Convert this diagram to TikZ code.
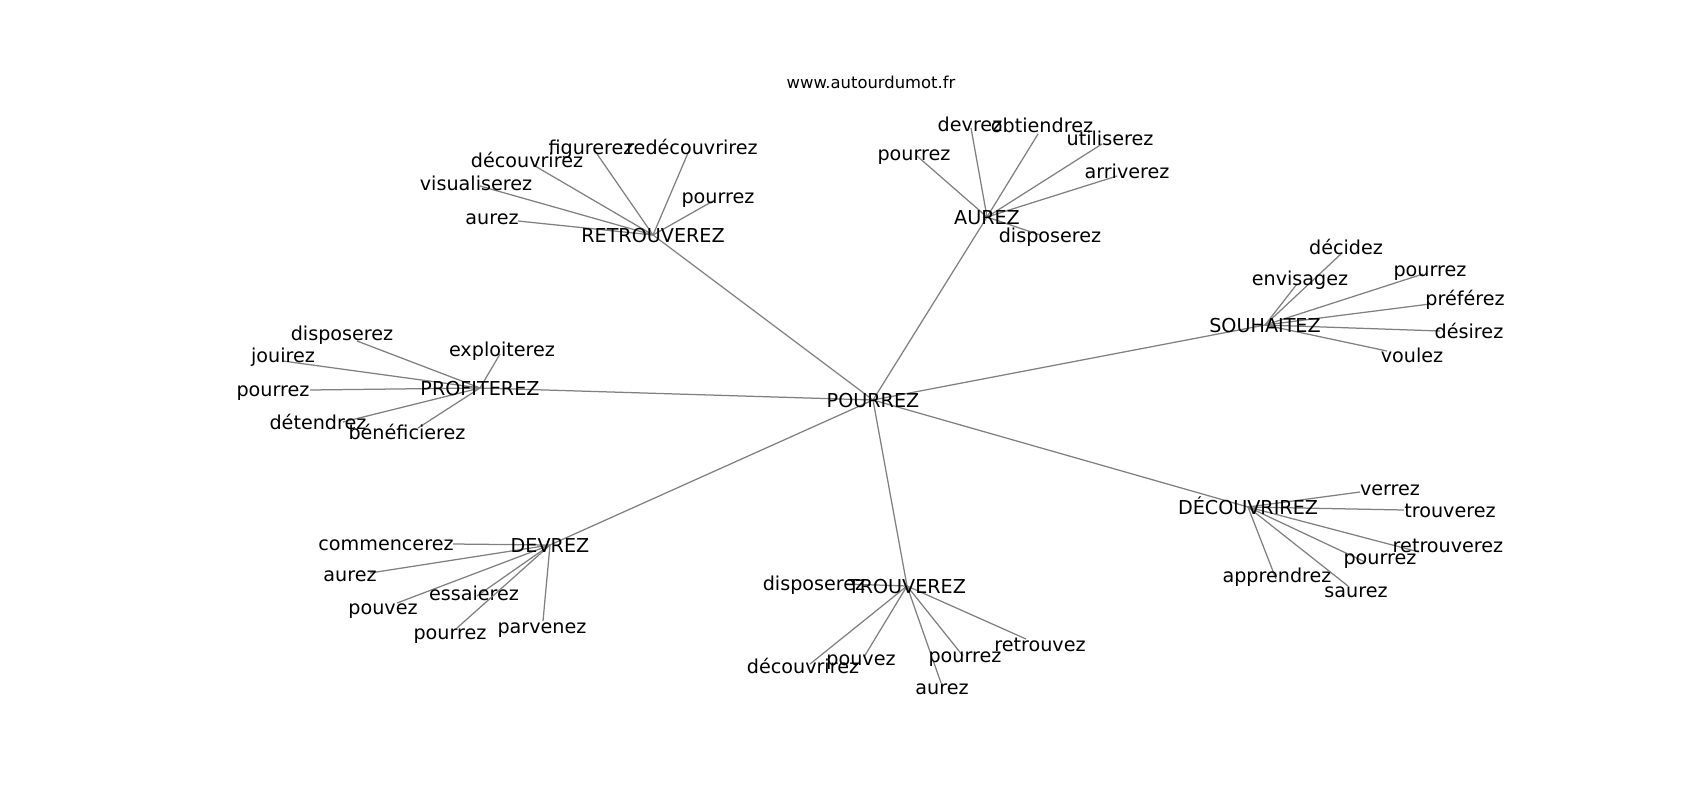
\documentclass[tikz,border=0pt]{standalone}
\usepackage{fontspec}
\setmainfont{DejaVu Sans}
\tikzset{
  lbl/.style={inner sep=0pt, text height=0.73em, text depth=0pt, anchor=center, yshift=-1.4pt, font=\fontsize{13.8}{16}\selectfont},
  hub/.style={lbl},
  ttl/.style={inner sep=0pt, anchor=center, text height=0.73em, text depth=0pt, yshift=-1.0pt, font=\fontsize{11.8}{14}\selectfont},
  edge/.style={draw=black!50, line width=0.9pt}
}
\newcommand{\wleaf}[5]{\coordinate (#1e) at (#4); \draw[edge] (#2.center) -- (#1e); \node[lbl] (#1) at (#3) {#5};}
\begin{document}
\begin{tikzpicture}[x=0.72pt,y=-0.72pt]
\useasboundingbox (0,0) rectangle (1700,800);
\node[ttl] (title) at (871,82) {www.autourdumot.fr};
% hubs
\coordinate (Pc) at (873,400);
\coordinate (Rc) at (653,235);
\coordinate (Ac) at (987,217);
\coordinate (Sc) at (1265,325);
\coordinate (Dc) at (1248,507);
\coordinate (Tc) at (907,586);
\coordinate (Vc) at (550,545);
\coordinate (Fc) at (480,388);
\draw[edge] (Pc) -- (Rc);
\draw[edge] (Pc) -- (Ac);
\draw[edge] (Pc) -- (Sc);
\draw[edge] (Pc) -- (Dc);
\draw[edge] (Pc) -- (Tc);
\draw[edge] (Pc) -- (Vc);
\draw[edge] (Pc) -- (Fc);
% RETROUVEREZ
\wleaf{r1}{Rc}{492,217}{518,221}{aurez}
\wleaf{r2}{Rc}{476,183}{480,186}{visualiserez}
\wleaf{r3}{Rc}{527,160}{535,166}{découvrirez}
\wleaf{r4}{Rc}{591,147}{595,151}{figurerez}
\wleaf{r5}{Rc}{692,147}{688,153}{redécouvrirez}
\wleaf{r6}{Rc}{718,196}{713,201}{pourrez}
% AUREZ
\wleaf{a1}{Ac}{914,153}{917,156}{pourrez}
\wleaf{a2}{Ac}{970,124}{971,128}{devrez}
\wleaf{a3}{Ac}{1042,125}{1038,134}{obtiendrez}
\wleaf{a4}{Ac}{1110,138}{1102,144}{utiliserez}
\wleaf{a5}{Ac}{1127,171}{1117,176}{arriverez}
\wleaf{a6}{Ac}{1050,235}{1040,235}{disposerez}
% SOUHAITEZ
\wleaf{s1}{Sc}{1346,247}{1342,253}{décidez}
\wleaf{s2}{Sc}{1300,278}{1297,284}{envisagez}
\wleaf{s3}{Sc}{1430,269}{1423,274}{pourrez}
\wleaf{s4}{Sc}{1465,298}{1430,304}{préférez}
\wleaf{s5}{Sc}{1469,331}{1440,331}{désirez}
\wleaf{s6}{Sc}{1412,355}{1387,351}{voulez}
% PROFITEREZ
\wleaf{f1}{Fc}{342,333}{357,341}{disposerez}
\wleaf{f2}{Fc}{283,355}{283,361}{jouirez}
\wleaf{f3}{Fc}{273,389}{310,390}{pourrez}
\wleaf{f4}{Fc}{502,349}{500,354}{exploiterez}
\wleaf{f5}{Fc}{318,422}{343,422}{détendrez}
\wleaf{f6}{Fc}{407,432}{418,428}{bénéficierez}
% DEVREZ
\wleaf{v1}{Vc}{386,543}{453,544}{commencerez}
\wleaf{v2}{Vc}{350,574}{370,573}{aurez}
\wleaf{v3}{Vc}{383,607}{397,603}{pouvez}
\wleaf{v4}{Vc}{474,593}{477,596}{essaierez}
\wleaf{v5}{Vc}{450,632}{457,628}{pourrez}
\wleaf{v6}{Vc}{542,626}{543,621}{parvenez}
% TROUVEREZ
\wleaf{t1}{Tc}{814,583}{845,584}{disposerez}
\wleaf{t2}{Tc}{803,666}{810,664}{découvrirez}
\wleaf{t3}{Tc}{861,658}{864,657}{pouvez}
\wleaf{t4}{Tc}{942,687}{941,683}{aurez}
\wleaf{t5}{Tc}{965,655}{963,656}{pourrez}
\wleaf{t6}{Tc}{1040,644}{1026,639}{retrouvez}
% DECOUVRIREZ
\wleaf{d1}{Dc}{1390,488}{1360,492}{verrez}
\wleaf{d2}{Dc}{1450,510}{1404,510}{trouverez}
\wleaf{d3}{Dc}{1448,545}{1419,552}{retrouverez}
\wleaf{d4}{Dc}{1380,557}{1365,562}{pourrez}
\wleaf{d5}{Dc}{1277,575}{1276,579}{apprendrez}
\wleaf{d6}{Dc}{1356,590}{1348,586}{saurez}
% hub labels
\node[hub] (P) at (Pc) {POURREZ};
\node[hub] (R) at (Rc) {RETROUVEREZ};
\node[hub] (A) at (Ac) {AUREZ};
\node[hub] (S) at (Sc) {SOUHAITEZ};
\node[hub] (D) at (Dc) {DÉCOUVRIREZ};
\node[hub] (T) at (Tc) {TROUVEREZ};
\node[hub] (V) at (Vc) {DEVREZ};
\node[hub] (F) at (Fc) {PROFITEREZ};
\end{tikzpicture}
\end{document}
